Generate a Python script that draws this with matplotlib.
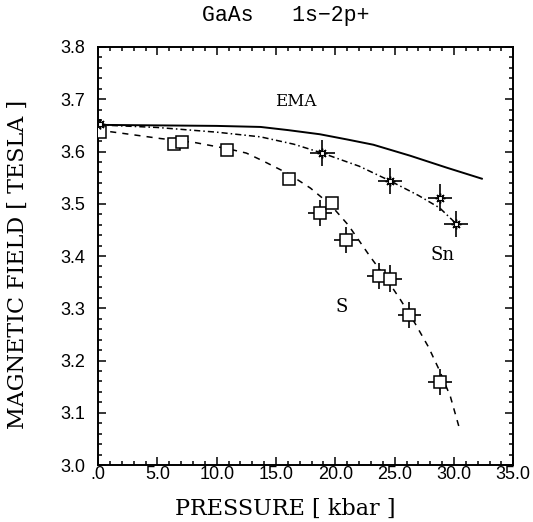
import matplotlib.pyplot as plt
from matplotlib.ticker import MultipleLocator, FuncFormatter

# S donor data (squares)
s_p = [0.17, 6.4, 7.1, 10.85, 16.1, 18.7, 19.7, 20.9, 23.7, 24.6, 26.25, 28.8]
s_b = [3.637, 3.614, 3.619, 3.603, 3.547, 3.483, 3.502, 3.431, 3.362, 3.357, 3.287, 3.159]
s_xerr = [0, 0, 0, 0, 0, 1.0, 0, 1.0, 1.0, 1.0, 1.0, 1.0]
s_yerr = [0, 0, 0, 0, 0, 0.025, 0, 0.025, 0.025, 0.025, 0.025, 0.025]

# Sn donor data (asterisks)
sn_p = [0.2, 18.9, 24.6, 28.8, 30.2]
sn_b = [3.653, 3.597, 3.544, 3.512, 3.461]
sn_xerr = [0.3, 1.05, 1.0, 1.0, 1.0]
sn_yerr = [0.01, 0.025, 0.025, 0.025, 0.025]

# EMA curve (solid)
ema_p = [0.0, 5.0, 10.0, 13.7, 16.0, 18.7, 21.0, 23.2, 26.3, 29.4, 32.35]
ema_b = [3.651, 3.650, 3.649, 3.647, 3.641, 3.633, 3.623, 3.613, 3.592, 3.569, 3.548]

# Sn fit (dash-dot)
snfit_p = [0.0, 5.0, 10.0, 13.7, 16.5, 18.9, 21.0, 22.0, 24.6, 27.0, 28.8, 30.5]
snfit_b = [3.651, 3.646, 3.637, 3.628, 3.614, 3.597, 3.580, 3.572, 3.544, 3.516, 3.492, 3.455]

# S fit (dashed)
sfit_p = [0.0, 2.0, 5.2, 8.2, 11.0, 12.5, 13.9, 16.0, 17.9, 19.6, 21.1, 22.9, 24.2, 25.5,
          26.7, 27.85, 28.8, 29.7, 30.5]
sfit_b = [3.641, 3.635, 3.625, 3.617, 3.605, 3.597, 3.582, 3.558, 3.530, 3.498, 3.459, 3.400,
          3.360, 3.316, 3.272, 3.226, 3.180, 3.131, 3.067]

plt.rcParams['font.family'] = ['Liberation Sans', 'DejaVu Sans']

fig = plt.figure(figsize=(5.33, 5.22), dpi=100)
ax = fig.add_axes([0.184, 0.109, 0.779, 0.801])

ax.plot(ema_p, ema_b, color='black', lw=1.4)
ax.plot(snfit_p, snfit_b, color='black', lw=1.1, linestyle=(0, (4, 2, 1, 2)))
ax.plot(sfit_p, sfit_b, color='black', lw=1.1, linestyle=(0, (4, 4)))

ax.errorbar(s_p, s_b, xerr=s_xerr, yerr=s_yerr, fmt='s', ms=8, mfc='white', mec='black',
            mew=1.1, ecolor='black', elinewidth=1.2, capsize=0, zorder=4)
ax.errorbar(sn_p, sn_b, xerr=sn_xerr, yerr=sn_yerr, fmt='none', ecolor='black',
            elinewidth=1.2, capsize=0, zorder=5)
ax.plot(sn_p, sn_b, linestyle='none', marker=(8, 2, 0), ms=7, mec='black', mew=1.0, zorder=6)
ax.plot(sn_p, sn_b, linestyle='none', marker='s', ms=2.5, mfc='white', mec='black', mew=0.8, zorder=7)

ax.text(16.7, 3.695, 'EMA', family='DejaVu Serif', fontsize=12, ha='center', va='center')
ax.text(29.05, 3.402, 'Sn', family='DejaVu Serif', fontsize=13, ha='center', va='center')
ax.text(20.55, 3.302, 'S', family='DejaVu Serif', fontsize=13, ha='center', va='center')

ax.set_xlim(0, 35)
ax.set_ylim(3.0, 3.8)
ax.xaxis.set_major_locator(MultipleLocator(5))
ax.xaxis.set_minor_locator(MultipleLocator(1))
ax.yaxis.set_major_locator(MultipleLocator(0.1))
ax.yaxis.set_minor_locator(MultipleLocator(0.02))
ax.xaxis.set_major_formatter(FuncFormatter(lambda v, pos: '.0' if v == 0 else f'{v:.1f}'))
ax.yaxis.set_major_formatter(FuncFormatter(lambda v, pos: f'{v:.1f}'))
ax.tick_params(which='both', direction='in', top=True, right=True, width=1.1, labelsize=13)
ax.tick_params(which='major', length=6)
ax.tick_params(which='minor', length=3)
ax.tick_params(axis='x', which='major', pad=1)
ax.tick_params(axis='y', which='major', pad=9)
for sp in ax.spines.values():
    sp.set_linewidth(1.4)

fig.text(285 / 533, 1 - 509 / 522, 'PRESSURE [ kbar ]', family='DejaVu Serif', fontsize=16,
         ha='center', va='center')
fig.text(18 / 533, 1 - 264 / 522, 'MAGNETIC FIELD [ TESLA ]', family='DejaVu Serif', fontsize=16,
         ha='center', va='center', rotation=90)
fig.text(286 / 533, 1 - 15 / 522, 'GaAs   1s\u22122p+', family='Liberation Mono', fontsize=15.5,
         ha='center', va='center')

fig.savefig('out.png', dpi=100)
